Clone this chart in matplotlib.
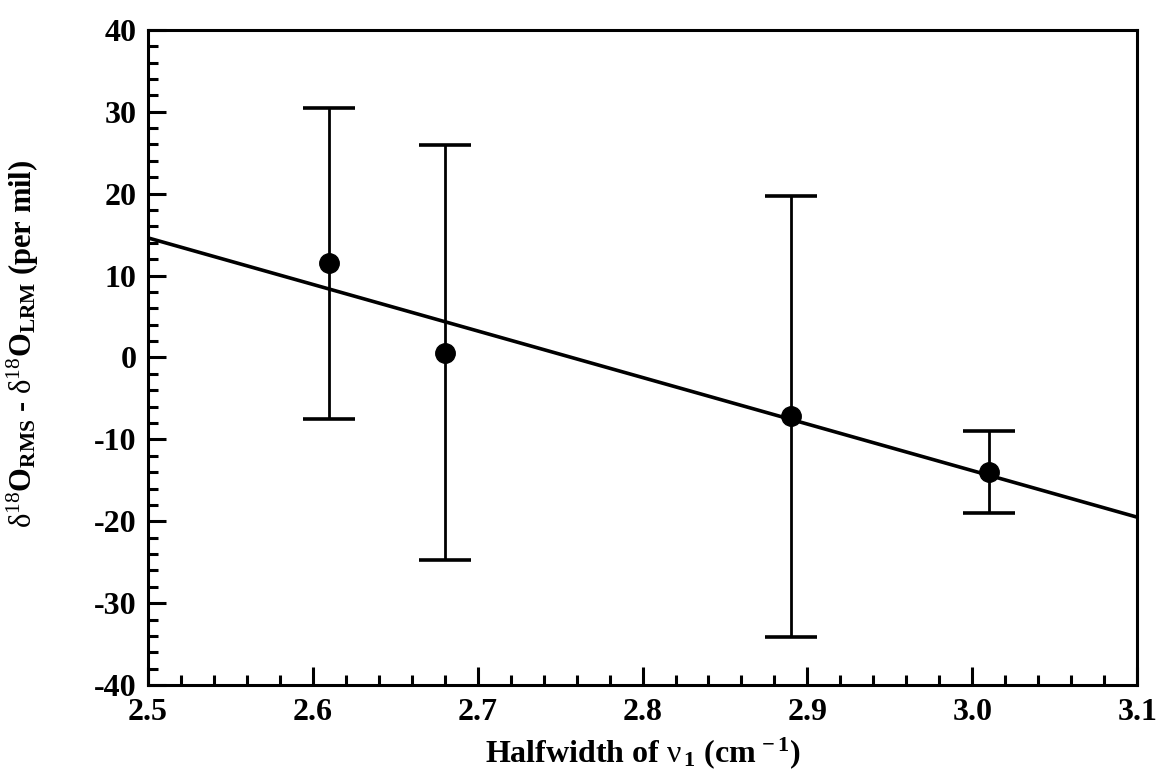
import matplotlib
matplotlib.use("Agg")
import matplotlib.pyplot as plt
from matplotlib.ticker import MultipleLocator

# Halfwidth of nu1 band vs. oxygen isotope offset
halfwidth = [2.61, 2.68, 2.89, 3.01]
delta_diff = [11.5, 0.6, -7.2, -14.0]
delta_err = [19.0, 25.3, 26.9, 5.0]

# Least-squares fit line, evaluated at the axis limits
fit_x = [2.5, 3.1]
fit_y = [14.6, -19.5]

plt.rcParams["font.family"] = "Liberation Serif"
plt.rcParams["font.weight"] = "bold"
plt.rcParams["axes.unicode_minus"] = False
plt.rcParams["mathtext.fontset"] = "custom"
plt.rcParams["mathtext.rm"] = "Liberation Serif:weight=normal"
plt.rcParams["mathtext.bf"] = "Liberation Serif:weight=bold"
plt.rcParams["mathtext.it"] = "Liberation Serif:style=italic:weight=normal"

fig = plt.figure(figsize=(11.64, 7.83), dpi=100)
ax = fig.add_axes([0.127, 0.125, 0.850, 0.837])

ax.plot(fit_x, fit_y, color="black", lw=2.6, zorder=2)
ax.errorbar(halfwidth, delta_diff, yerr=delta_err, fmt="o", color="black",
            markersize=14, elinewidth=2.0, capsize=19, capthick=2.6, zorder=3)

ax.set_xlim(2.5, 3.1)
ax.set_ylim(-40, 40)
ax.xaxis.set_major_locator(MultipleLocator(0.1))
ax.xaxis.set_minor_locator(MultipleLocator(0.02))
ax.yaxis.set_major_locator(MultipleLocator(10))
ax.yaxis.set_minor_locator(MultipleLocator(2))
ax.set_xticklabels([f"{v:.1f}" for v in ax.get_xticks()])

for s in ax.spines.values():
    s.set_linewidth(2.2)
ax.tick_params(which="both", direction="in", top=False, right=False, width=2.2,
               labelsize=23)
ax.tick_params(which="major", length=13)
ax.tick_params(which="minor", length=7)
ax.tick_params(axis="y", pad=8)
ax.tick_params(axis="x", pad=9)

ax.set_xlabel(r"Halfwidth of $\mathrm{\nu}_{\,\mathbf{1}}$ (cm$^{\mathbf{\,-1}}$)",
              fontsize=23, fontweight="bold", labelpad=6)
ax.set_ylabel(r"$\mathrm{\delta}^{18}$O$_{\mathbf{RMS}}$ - "
              r"$\mathrm{\delta}^{18}$O$_{\mathbf{LRM}}$ (per mil)",
              fontsize=22, fontweight="bold")
ax.yaxis.set_label_coords(-0.108, 0.52)

fig.savefig("out.png", dpi=100)
